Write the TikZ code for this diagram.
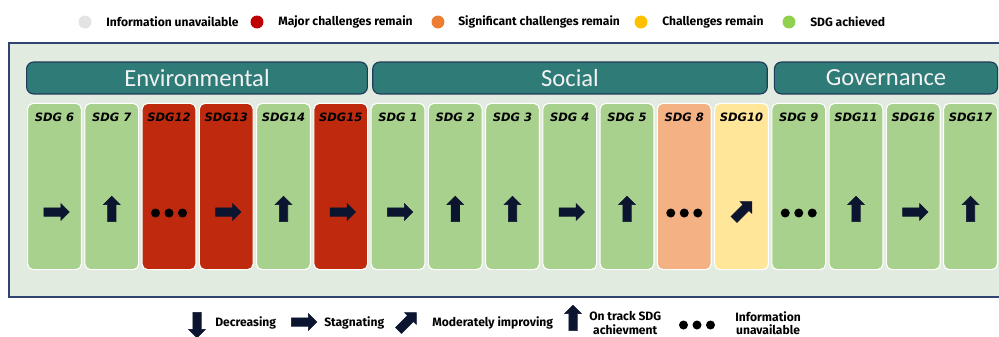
\documentclass[tikz,border=0pt]{standalone}
\usepackage{fontspec}
\setmainfont{Carlito}
\newfontfamily\legfont{Fira Sans}
\newfontfamily\sdgfont{DejaVu Sans}
\usetikzlibrary{shapes.arrows}

\definecolor{framebg}{HTML}{E2EBDF}
\definecolor{frameline}{HTML}{2F4470}
\definecolor{hdrfill}{HTML}{2F7B77}
\definecolor{hdrline}{HTML}{1F3A5A}
\definecolor{achieved}{HTML}{A9D18E}
\definecolor{major}{HTML}{BF2A0E}
\definecolor{signif}{HTML}{F4B183}
\definecolor{remain}{HTML}{FFE699}
\definecolor{arrowc}{HTML}{0B1530}
\definecolor{dotna}{HTML}{E3E3E3}
\definecolor{dotmajor}{HTML}{C00000}
\definecolor{dotsignif}{HTML}{ED7D31}
\definecolor{dotremain}{HTML}{FFC000}
\definecolor{dotok}{HTML}{92D050}

\begin{document}
\begin{tikzpicture}[x=0.025cm,y=-0.025cm,
    sdgcol/.style={rectangle, draw=white, line width=0.8pt, rounded corners=4pt,
      minimum width=38.3pt, minimum height=118.3pt, inner sep=0pt},
    sdglab/.style={font=\sdgfont\bfseries\itshape\fontsize{8.2}{10}\selectfont, inner sep=0pt},
    hdr/.style={rectangle, draw=hdrline, fill=hdrfill, line width=0.8pt, rounded corners=5pt,
      minimum height=22.7pt, inner sep=0pt, text=white!95!black,
      font=\fontsize{17.5}{20}\selectfont},
    trend/.style={single arrow, fill=arrowc, draw=arrowc, line width=0.4pt,
      inner xsep=0pt, inner ysep=2.8pt, minimum height=18pt, minimum width=12pt,
      single arrow head extend=3pt},
    nodata/.style={minimum width=30pt, minimum height=8pt, inner sep=0pt,
      path picture={\fill[black] (path picture bounding box.center) circle (3.2pt)
        +(-9.6pt,0) circle (3.2pt) +(9.6pt,0) circle (3.2pt);}},
    legdot/.style={circle, minimum size=9.2pt, inner sep=0pt},
    legtxt/.style={font=\legfont\bfseries\fontsize{8.6}{9.4}\selectfont, inner sep=0pt,
      anchor=west, align=center}
  ]
  \useasboundingbox (0,0) rectangle (999,336);

  % legend: status
  \node[legdot, fill=dotna] (d1) at (85,22) {};
  \node[legtxt] (s1) at (106,22) {Information unavailable};
  \node[legdot, fill=dotmajor] (d2) at (257,22) {};
  \node[legtxt] (s2) at (278,22) {Major challenges remain};
  \node[legdot, fill=dotsignif] (d3) at (438,22) {};
  \node[legtxt] (s3) at (458,22) {Significant challenges remain};
  \node[legdot, fill=dotremain] (d4) at (641,22) {};
  \node[legtxt] (s4) at (662,22) {Challenges remain};
  \node[legdot, fill=dotok] (d5) at (789,22) {};
  \node[legtxt] (s5) at (810,22) {SDG achieved};

  % frame
  \draw[frameline, fill=framebg, line width=1pt] (9,43) rectangle (1010,297);

  % pillars
  \node[hdr, minimum width=242.4pt] (env) at (197,78) {Environmental};
  \node[hdr, minimum width=280.6pt] (soc) at (570,78) {Social};
  \node[hdr, minimum width=158.7pt] (gov) at (886,78) {Governance};

  % Environmental
  \node[sdgcol, fill=achieved] (sdg6) at (54.5,186.5) {};
  \node[sdglab] (l6) at (54.5,117) {SDG 6};
  \node[trend] (i6) at (54.5,212) {};
  \node[sdgcol, fill=achieved] (sdg7) at (111.75,186.5) {};
  \node[sdglab] (l7) at (111.75,117) {SDG 7};
  \node[trend, rotate=90] (i7) at (111.75,211) {};
  \node[sdgcol, fill=major] (sdg12) at (169,186.5) {};
  \node[sdglab] (l12) at (169,117) {SDG12};
  \node[nodata] (i12) at (169,213) {};
  \node[sdgcol, fill=major] (sdg13) at (226.25,186.5) {};
  \node[sdglab] (l13) at (226.25,117) {SDG13};
  \node[trend] (i13) at (226.25,212) {};
  \node[sdgcol, fill=achieved] (sdg14) at (283.5,186.5) {};
  \node[sdglab] (l14) at (283.5,117) {SDG14};
  \node[trend, rotate=90] (i14) at (283.5,211) {};
  \node[sdgcol, fill=major] (sdg15) at (340.75,186.5) {};
  \node[sdglab] (l15) at (340.75,117) {SDG15};
  \node[trend] (i15) at (340.75,212) {};

  % Social
  \node[sdgcol, fill=achieved] (sdg1) at (398,186.5) {};
  \node[sdglab] (l1) at (398,117) {SDG 1};
  \node[trend] (i1) at (398,212) {};
  \node[sdgcol, fill=achieved] (sdg2) at (455.25,186.5) {};
  \node[sdglab] (l2) at (455.25,117) {SDG 2};
  \node[trend, rotate=90] (i2) at (455.25,211) {};
  \node[sdgcol, fill=achieved] (sdg3) at (512.5,186.5) {};
  \node[sdglab] (l3) at (512.5,117) {SDG 3};
  \node[trend, rotate=90] (i3) at (512.5,211) {};
  \node[sdgcol, fill=achieved] (sdg4) at (569.75,186.5) {};
  \node[sdglab] (l4) at (569.75,117) {SDG 4};
  \node[trend] (i4) at (569.75,212) {};
  \node[sdgcol, fill=achieved] (sdg5) at (627,186.5) {};
  \node[sdglab] (l5) at (627,117) {SDG 5};
  \node[trend, rotate=90] (i5) at (627,211) {};
  \node[sdgcol, fill=signif] (sdg8) at (684.25,186.5) {};
  \node[sdglab] (l8) at (684.25,117) {SDG 8};
  \node[nodata] (i8) at (684.25,213) {};
  \node[sdgcol, fill=remain] (sdg10) at (741.5,186.5) {};
  \node[sdglab] (l10) at (741.5,117) {SDG10};
  \node[trend, rotate=45] (i10) at (741.5,212) {};

  % Governance
  \node[sdgcol, fill=achieved] (sdg9) at (798.75,186.5) {};
  \node[sdglab] (l9) at (798.75,117) {SDG 9};
  \node[nodata] (i9) at (798.75,213) {};
  \node[sdgcol, fill=achieved] (sdg11) at (856,186.5) {};
  \node[sdglab] (l11) at (856,117) {SDG11};
  \node[trend, rotate=90] (i11) at (856,211) {};
  \node[sdgcol, fill=achieved] (sdg16) at (913.25,186.5) {};
  \node[sdglab] (l16) at (913.25,117) {SDG16};
  \node[trend] (i16) at (913.25,212) {};
  \node[sdgcol, fill=achieved] (sdg17) at (970.5,186.5) {};
  \node[sdglab] (l17) at (970.5,117) {SDG17};
  \node[trend, rotate=90] (i17) at (970.5,211) {};

  % legend: trend
  \node[trend, rotate=-90] (k1) at (197,323) {};
  \node[legtxt] (k1t) at (215,323) {Decreasing};
  \node[trend] (k2) at (302,322) {};
  \node[legtxt] (k2t) at (324,323) {Stagnating};
  \node[trend, rotate=45] (k3) at (406,323) {};
  \node[legtxt] (k3t) at (432,323) {Moderately improving};
  \node[trend, rotate=90] (k4) at (573,320) {};
  \node[legtxt] (k4t) at (589,323) {On track SDG\\achievment};
  \node[nodata] (k5) at (697,325) {};
  \node[legtxt] (k5t) at (735,323) {Information\\unavailable};
\end{tikzpicture}
\end{document}
